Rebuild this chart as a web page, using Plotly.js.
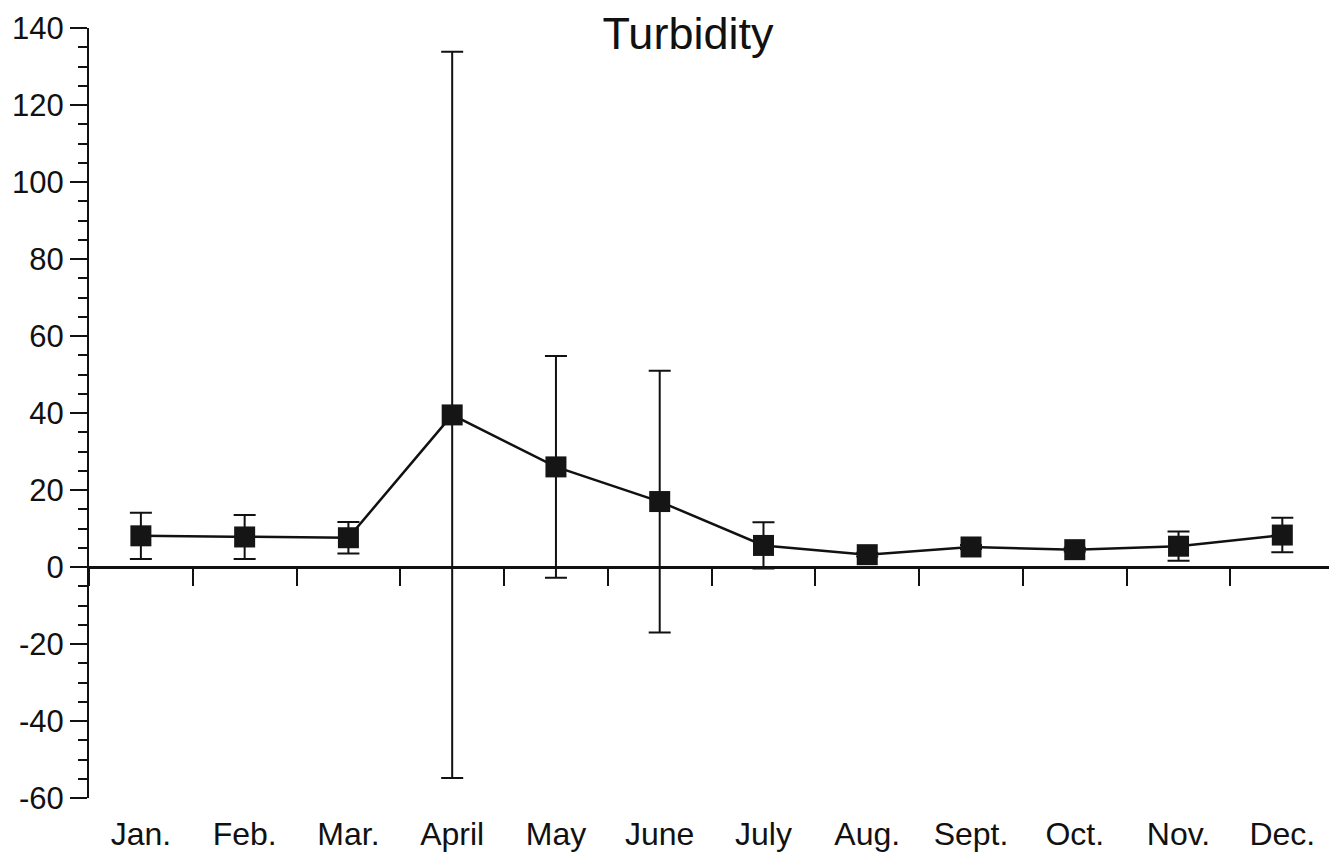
<!DOCTYPE html>
<html>
<head>
<meta charset="utf-8">
<script src="https://cdn.plot.ly/plotly-3.0.1.min.js"></script>
<style>html,body{margin:0;padding:0;background:#fff;}#chart{width:1329px;height:857px;}</style>
</head>
<body>
<div id="chart"></div>
<script>
const months = ["Jan.", "Feb.", "Mar.", "April", "May", "June", "July", "Aug.", "Sept.", "Oct.", "Nov.", "Dec."];
const turbidityMean = [8.1, 7.8, 7.6, 39.5, 26.0, 17.0, 5.6, 3.2, 5.2, 4.5, 5.4, 8.3];
const turbiditySD = [6.0, 5.7, 4.1, 94.3, 28.8, 34.0, 6.0, 0.5, 0.5, 0.5, 3.8, 4.5];
const yTickVals = [-60, -40, -20, 0, 20, 40, 60, 80, 100, 120, 140];
const yTickText = ["-60", "-40", "-20", "0", "20", "40", "60", "80", "100", "120", "140"];

const FONT = "Liberation Sans, Arial, Helvetica, sans-serif";

const data = [
  {
    type: "scatter",
    mode: "lines+markers",
    x: months,
    y: turbidityMean,
    xaxis: "x",
    yaxis: "y",
    line: {color: "#111", width: 2.5},
    marker: {symbol: "square", size: 21, color: "#151515", line: {width: 0}},
    error_y: {type: "data", array: turbiditySD, visible: true, color: "#111", thickness: 2, width: 11},
    showlegend: false,
    hoverinfo: "x+y"
  },
  {
    type: "scatter",
    mode: "none",
    x: months,
    y: turbidityMean,
    xaxis: "x2",
    yaxis: "y",
    showlegend: false,
    hoverinfo: "skip"
  }
];

const layout = {
  width: 1329,
  height: 857,
  paper_bgcolor: "#fff",
  plot_bgcolor: "#fff",
  margin: {l: 89, r: 0, t: 28, b: 59},
  font: {family: FONT, color: "#111"},
  title: {
    text: "Turbidity",
    font: {family: FONT, size: 45, color: "#111"},
    x: 688 / 1329,
    xref: "container",
    xanchor: "center",
    y: 1 - 33 / 857,
    yref: "container",
    yanchor: "middle"
  },
  xaxis: {
    type: "category",
    categoryorder: "array",
    categoryarray: months,
    range: [-0.5, 11.45],
    showline: false,
    showgrid: false,
    zeroline: false,
    ticks: "",
    ticklabelstandoff: 14,
    tickfont: {family: FONT, size: 32, color: "#111"},
    fixedrange: true
  },
  xaxis2: {
    type: "category",
    categoryorder: "array",
    categoryarray: months,
    overlaying: "x",
    anchor: "free",
    position: 0.3,
    side: "bottom",
    range: [-0.5, 11.45],
    tickson: "boundaries",
    ticks: "outside",
    ticklen: 17,
    tickwidth: 2,
    tickcolor: "#111",
    showticklabels: false,
    showline: true,
    linecolor: "#111",
    linewidth: 2.5,
    showgrid: false,
    zeroline: false,
    fixedrange: true
  },
  yaxis: {
    range: [-60, 140],
    tickmode: "array",
    tickvals: yTickVals,
    ticktext: yTickText,
    ticks: "outside",
    ticklen: 17,
    tickwidth: 2,
    tickcolor: "#111",
    minor: {dtick: 5, ticks: "outside", ticklen: 9, tickwidth: 2, tickcolor: "#111", showgrid: false},
    showline: true,
    linecolor: "#111",
    linewidth: 2,
    showgrid: false,
    zeroline: false,
    tickfont: {family: FONT, size: 31, color: "#111"},
    ticklabelstandoff: 0,
    fixedrange: true
  }
};

Plotly.newPlot("chart", data, layout, {displayModeBar: false, staticPlot: true});
</script>
</body>
</html>
